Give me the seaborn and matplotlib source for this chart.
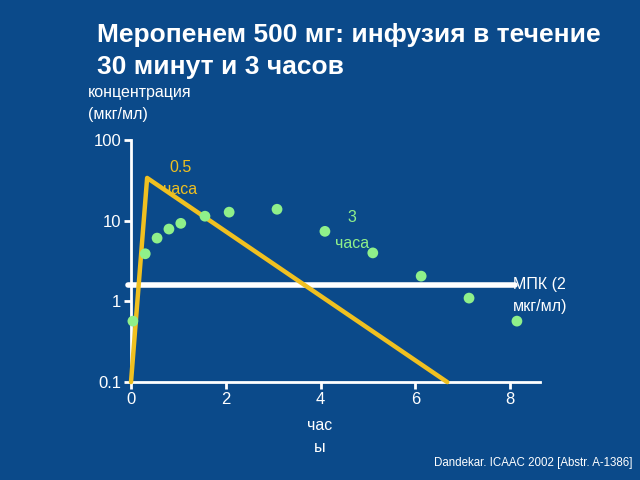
import numpy as np
import pandas as pd
import matplotlib
matplotlib.use('Agg')
import matplotlib.pyplot as plt
import seaborn as sns

# 30-minute infusion (yellow line)
short_hours = [0.0, 0.34, 6.67]
short_conc = [0.1, 34.0, 0.1]

# 3-hour infusion (green points)
long_hours = [0.04, 0.3, 0.55, 0.8, 1.05, 1.56, 2.07, 3.08, 4.09, 5.1, 6.12, 7.13, 8.14]
long_conc = [0.57, 3.9, 6.1, 7.9, 9.3, 11.4, 12.8, 13.9, 7.4, 4.0, 2.06, 1.1, 0.57]

# MIC line
mic_hours = [-0.06, 8.1]
mic_conc = [1.6, 1.6]

x_ticks = [0, 2, 4, 6, 8]
y_ticks = [0.1, 1, 10, 100]
y_ticklabels = ['0.1', '1', '10', '100']

bg = '#0b4a8a'
yellow = '#f0c020'
green = '#8ff08a'

sns.set_theme(style='ticks')
plt.rcParams['font.family'] = ['Liberation Sans', 'DejaVu Sans']

fig = plt.figure(figsize=(6.4, 4.8), dpi=100, facecolor=bg)
ax = fig.add_axes([0.2047, 0.204, 0.6393, 0.504])
ax.set_facecolor(bg)

df_short = pd.DataFrame({'h': short_hours, 'c': short_conc})
df_long = pd.DataFrame({'h': long_hours, 'c': long_conc})
df_mic = pd.DataFrame({'h': mic_hours, 'c': mic_conc})

sns.lineplot(data=df_mic, x='h', y='c', ax=ax, color='white', linewidth=4,
             estimator=None, sort=False, clip_on=False, zorder=2)
sns.lineplot(data=df_short, x='h', y='c', ax=ax, color=yellow, linewidth=3.2,
             estimator=None, sort=False, clip_on=False, zorder=3)
sns.scatterplot(data=df_long, x='h', y='c', ax=ax, color=green, s=60,
                edgecolor='none', clip_on=False, zorder=4)

ax.set_yscale('log')
ax.set_xlim(0, 8.63)
ax.set_ylim(0.1, 100)
ax.set_xticks(x_ticks)
ax.set_xticklabels([str(t) for t in x_ticks])
ax.set_yticks(y_ticks)
ax.set_yticklabels(y_ticklabels)
ax.minorticks_off()
ax.tick_params(colors='white', labelsize=12, width=2, length=5, pad=2)
for s in ['left', 'bottom']:
    ax.spines[s].set_color('white')
    ax.spines[s].set_linewidth(2)
for s in ['top', 'right']:
    ax.spines[s].set_visible(False)
ax.set_xlabel('')
ax.set_ylabel('')

fig.text(97 / 640, 1 - 35 / 480, 'Меропенем 500 мг: инфузия в течение',
         color='white', fontsize=19, fontweight='bold', ha='left', va='center')
fig.text(97 / 640, 1 - 67 / 480, '30 минут и 3 часов',
         color='white', fontsize=19, fontweight='bold', ha='left', va='center')

fig.text(88 / 640, 1 - 93 / 480, 'концентрация', color='white', fontsize=11.5, ha='left', va='center')
fig.text(88 / 640, 1 - 115 / 480, '(мкг/мл)', color='white', fontsize=11.5, ha='left', va='center')

fig.text(320 / 640, 1 - 425 / 480, 'час', color='white', fontsize=11.5, ha='center', va='center')
fig.text(320 / 640, 1 - 448 / 480, 'ы', color='white', fontsize=11.5, ha='center', va='center')

fig.text(180 / 640, 1 - 168 / 480, '0.5', color=yellow, fontsize=11.5, ha='center', va='center')
fig.text(180 / 640, 1 - 189 / 480, 'часа', color=yellow, fontsize=11.5, ha='center', va='center')

fig.text(352 / 640, 1 - 218 / 480, '3', color=green, fontsize=11.5, ha='center', va='center')
fig.text(352 / 640, 1 - 243 / 480, 'часа', color=green, fontsize=11.5, ha='center', va='center')

fig.text(513 / 640, 1 - 284 / 480, 'МПК (2', color='white', fontsize=11.5, ha='left', va='center')
fig.text(513 / 640, 1 - 307 / 480, 'мкг/мл)', color='white', fontsize=11.5, ha='left', va='center')

fig.text(632 / 640, 1 - 463 / 480, 'Dandekar. ICAAC 2002 [Abstr. A-1386]', color='white',
         fontsize=8.3, ha='right', va='center')

fig.savefig('out.png', dpi=100, facecolor=bg)
